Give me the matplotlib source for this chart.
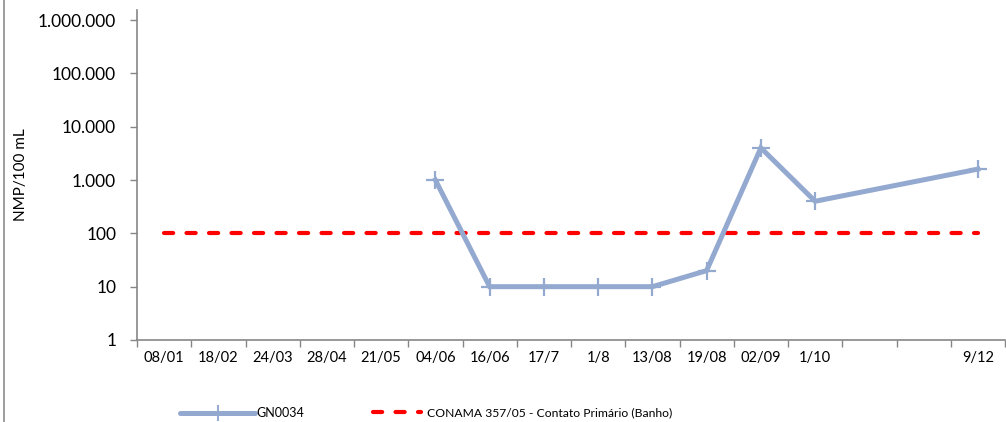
import numpy as np
import matplotlib
matplotlib.use("Agg")
import matplotlib.pyplot as plt
from matplotlib.lines import Line2D
from matplotlib.ticker import FixedLocator, FuncFormatter

plt.rcParams['font.family'] = ['Lato', 'DejaVu Sans']

categories = ['08/01', '18/02', '24/03', '28/04', '21/05', '04/06', '16/06', '17/7',
              '1/8', '13/08', '19/08', '02/09', '1/10', '', '', '9/12']
gn0034 = [np.nan, np.nan, np.nan, np.nan, np.nan, 1000, 10, 10,
          10, 10, 20, 4000, 400, np.nan, np.nan, 1600]
conama = [100] * len(categories)
y_ticks = [1, 10, 100, 1000, 10000, 100000, 1000000]

W, H = 1006, 422
fig = plt.figure(figsize=(W / 100, H / 100), dpi=100)
ax = fig.add_axes([137 / W, 1 - 340 / H, (1005 - 137) / W, (340 - 10) / H])

x = np.arange(len(categories)) + 0.5
vals = np.array(gn0034, dtype=float)
m = ~np.isnan(vals)

ax.plot(x, conama, color='#FF0000', lw=3.0, dashes=(2.2, 3.2),
        dash_capstyle='round', zorder=2)
ax.plot(x[m], vals[m], color='#93A9D0', lw=3.6, marker='+', ms=13,
        mew=1.6, mec='#93A9D0', solid_joinstyle='miter', zorder=3)

ax.set_yscale('log')
ax.set_ylim(1, 10 ** (6 + 10 / 53.2))
ax.yaxis.set_major_locator(FixedLocator(y_ticks))
ax.yaxis.set_minor_locator(FixedLocator([]))
ax.yaxis.set_major_formatter(FuncFormatter(lambda v, p: '{:,}'.format(int(round(v))).replace(',', '.')))

ax.set_xlim(0, len(categories))
ax.set_xticks(x)
ax.set_xticklabels(categories)
ax.set_xticks(np.arange(len(categories) + 1), minor=True)
ax.tick_params(axis='x', which='major', length=0, pad=8, labelsize=10.5)
ax.tick_params(axis='x', which='minor', length=5, width=1, color='#868686')
ax.tick_params(axis='y', which='major', length=5, width=1, color='#868686',
               pad=10, labelsize=12.5)

for s in ['top', 'right']:
    ax.spines[s].set_visible(False)
for s in ['left', 'bottom']:
    ax.spines[s].set_color('#868686')
    ax.spines[s].set_linewidth(1.2)

ax.set_ylabel('NMP/100 mL', fontsize=11)
ax.yaxis.set_label_coords(-109 / (1005 - 137), 0.5)

# left border of chart area
fig.add_artist(Line2D([3.5 / W, 3.5 / W], [0, 1], color='#8C8C8C', lw=1.2))

h1 = Line2D([], [], color='#93A9D0', lw=3.6, marker='+', ms=11, mew=1.4,
            markevery=[1], solid_capstyle='round')
h2 = Line2D([], [], color='#FF0000', lw=3.0, dashes=(2.2, 3.2), dash_capstyle='round')
leg1 = fig.legend([h1], ['GN0034'], loc='center left',
                  bbox_to_anchor=(174 / W, 1 - 413 / H), frameon=False,
                  handlelength=6.0, handletextpad=0.1, fontsize=9, borderpad=0)
leg2 = fig.legend([h2], ['CONAMA 357/05 - Contato Primário (Banho)'], loc='center left',
                  bbox_to_anchor=(367 / W, 1 - 413 / H), frameon=False,
                  handlelength=4.0, handletextpad=0.5, fontsize=8.7, borderpad=0)

fig.savefig('out.png', dpi=100)
